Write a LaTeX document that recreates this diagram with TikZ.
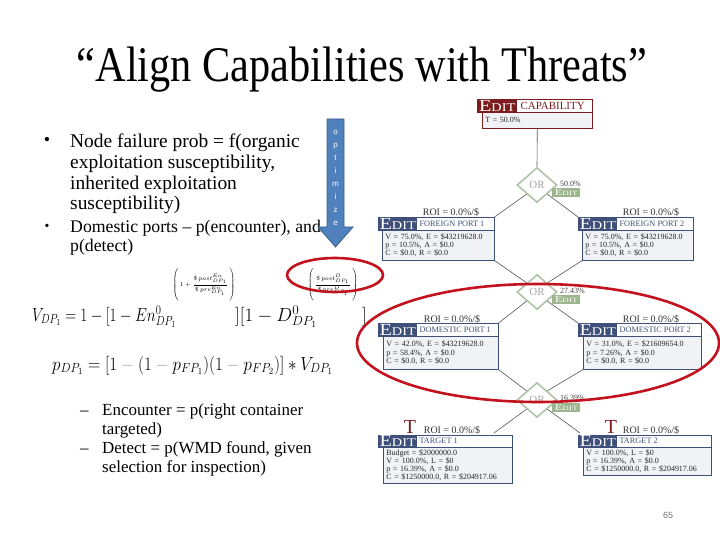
\documentclass[tikz,border=0pt]{standalone}
\usepackage{fix-cm}
\usepackage{amsmath}
\usepackage{fontspec}
\setmainfont{Liberation Serif}
\setsansfont{Liberation Sans}
\usetikzlibrary{shapes.geometric,positioning}

\definecolor{PortBlue}{HTML}{3E5079}
\definecolor{PortFill}{HTML}{F1F2F6}
\definecolor{CapRed}{HTML}{7B1D1D}
\definecolor{OrGreen}{HTML}{AFC3A7}
\definecolor{EditGreen}{HTML}{9DB58F}
\definecolor{RingRed}{HTML}{C3121E}
\definecolor{ArrowBlue}{HTML}{4F81BD}
\definecolor{ArrowEdge}{HTML}{385D8A}
\definecolor{LinkGray}{HTML}{555555}

\newcommand{\editword}{\scalebox{1.2}[1]{{\fontsize{17}{17}\selectfont E}{\fontsize{12}{12}\selectfont DIT}}}
\newcommand{\editsmall}{\scalebox{1.4}[1]{{\fontsize{9}{9}\selectfont E}{\fontsize{6.5}{6.5}\selectfont DIT}}}

\begin{document}
\begin{tikzpicture}[x=1bp, y=-1bp]
        \tikzstyle{headline} = [font=\fontsize{19.5}{21}\selectfont, align=left, anchor=base west, inner sep=0pt]
        \tikzstyle{subline} = [font=\fontsize{17}{19}\selectfont, align=left, anchor=base west, inner sep=0pt]
        \tikzstyle{formula} = [font=\fontsize{19}{23}\selectfont, anchor=base west, inner sep=0pt]
        \tikzstyle{expo} = [font=\fontsize{6}{7}\selectfont, inner sep=0pt]
        \tikzstyle{porthead} = [rectangle, draw=PortBlue, fill=white, line width=0.6bp, anchor=north west, inner sep=0pt, minimum height=13bp]
        \tikzstyle{portbody} = [rectangle, draw=PortBlue, fill=PortFill, line width=0.6bp, anchor=north west, inner sep=0pt, inner xsep=3bp, align=left, text=black!85, font=\fontsize{8}{8.3}\selectfont]
        \tikzstyle{editblue} = [rectangle, fill=PortBlue, text=white, anchor=north west, inner sep=0pt, minimum width=39bp, minimum height=13bp]
        \tikzstyle{edited} = [rectangle, fill=EditGreen, text=white, anchor=north west, inner sep=0pt, minimum width=28bp, minimum height=9bp]
        \tikzstyle{title} = [font=\fontsize{8.3}{8.3}\selectfont, text=PortBlue, inner sep=0pt]
        \tikzstyle{roi} = [font=\fontsize{10}{10}\selectfont, text=black!80, inner sep=0pt]
        \tikzstyle{ornode} = [diamond, draw=OrGreen, line width=1.6bp, fill=white, inner sep=0pt, minimum width=40bp, minimum height=35bp, text=black!35, font=\fontsize{11}{11}\selectfont]
        \tikzstyle{pct} = [font=\fontsize{8}{8}\selectfont, text=black!75, anchor=west, inner sep=0pt]
        \tikzstyle{link} = [draw=LinkGray, line width=0.6bp]
        \tikzstyle{ring} = [draw=RingRed, line width=2.6bp]
        \tikzstyle{tmark} = [font=\fontsize{20}{20}\selectfont, text=CapRed, inner sep=0pt]

\useasboundingbox (0,0) rectangle (720,540);

\node[font=\fontsize{50}{50}\selectfont, anchor=base, inner sep=0pt] (slideTitle) at (362,82) {\scalebox{0.85}[1]{“Align Capabilities with Threats”}};

\node[font=\fontsize{18}{18}\selectfont, inner sep=0pt] (dotOne) at (47,141) {•};
        \node[headline] (pointOne) at (70,210) {Node failure prob = f(organic\\exploitation susceptibility,\\inherited exploitation\\susceptibility)};
        \node[font=\fontsize{14}{14}\selectfont, inner sep=0pt] (dotTwo) at (47,227) {•};
        \node[subline, font=\fontsize{17.8}{20}\selectfont] (pointTwo) at (70,252) {Domestic ports – p(encounter), and\\p(detect)};

\node[formula] (vLeft) at (32,321) {\scalebox{0.8}[1]{$V_{DP_1} = 1-[1-En^{0}_{DP_1}$}};
        \node[expo] (expoEn) at (204,285) {$\displaystyle\left(\vrule height 15bp depth 15bp width 0pt\,1+\frac{\$\,post^{En}_{DP_1}}{\$\,pre^{En}_{DP_1}}\,\right)$};
        \node[formula] (vMid) at (235,321) {$][1-D^{0}_{DP_1}$};
        \node[expo] (expoD) at (333,285) {$\displaystyle\left(\vrule height 15bp depth 15bp width 0pt\,\frac{\$\,post^{D}_{DP_1}}{\$\,pre^{D}_{DP_1}}\,\right)$};
        \node[formula] (vRight) at (362,321) {$]$};
        \node[formula] (pFormula) at (52,370) {\scalebox{0.9}[1]{$p_{DP_1} = [1\mathbin{\color{black!35}-}(1\mathbin{\color{black!35}-}p_{FP_1})(1\mathbin{\color{black!35}-}p_{FP_2})]*V_{DP_1}$}};

\node[subline] (dashOne) at (80,415) {–};
        \node[subline] (subOne) at (102,434) {Encounter = p(right container\\targeted)};
        \node[subline] (dashTwo) at (80,453) {–};
        \node[subline] (subTwo) at (102,472) {Detect = p(WMD found, given\\selection for inspection)};

\filldraw[fill=ArrowBlue, draw=ArrowEdge, line width=0.8bp] (327,119) -- (344,119) -- (344,227) -- (353,227) -- (335.5,247) -- (318,227) -- (327,227) -- cycle;
        \node[font=\sffamily\fontsize{8}{13}\selectfont, text=white, align=center, inner sep=0pt] (optimizeWord) at (335.5,178) {o\\p\\t\\i\\m\\i\\z\\e};

\node[porthead, draw=CapRed, minimum width=115bp] (capHead) at (477,99) {};
        \node[portbody, draw=CapRed, text width=104bp, minimum width=110bp, minimum height=16bp] (capBody) at (482,112) {T = 50.0\%};
        \node[editblue, fill=CapRed, minimum width=40bp] (capEdit) at (477,99) {\editword};
        \node[title, text=CapRed, font=\fontsize{11}{11}\selectfont, right=3bp of capEdit] (capTitle) {CAPABILITY};

\node[ornode] (orOne) at (537,185) {OR};
        \node[pct] (pctOne) at (560,184) {50.0\%};
        \node[edited] (orOneEdit) at (552,188) {\editsmall};

\node[porthead, minimum width=116bp] (foreignOneHead) at (378,217) {};
        \node[portbody, text width=106bp, minimum width=112bp, minimum height=30bp] (foreignOne) at (382,230) {V = 75.0\%, E = \$43219628.0\\p = 10.5\%, A = \$0.0\\C = \$0.0, R = \$0.0};
        \node[editblue] (foreignOneEdit) at (378,217) {\editword};
        \node[title, right=2bp of foreignOneEdit] (foreignOneTitle) {FOREIGN PORT 1};
        \node[roi] (foreignOneRoi) at (451,212) {ROI = 0.0\%/\$};

\node[porthead, minimum width=115bp] (foreignTwoHead) at (578,217) {};
        \node[portbody, text width=105bp, minimum width=111bp, minimum height=30bp] (foreignTwo) at (582,230) {V = 75.0\%, E = \$43219628.0\\p = 10.5\%, A = \$0.0\\C = \$0.0, R = \$0.0};
        \node[editblue] (foreignTwoEdit) at (578,217) {\editword};
        \node[title, right=2bp of foreignTwoEdit] (foreignTwoTitle) {FOREIGN PORT 2};
        \node[roi] (foreignTwoRoi) at (651,212) {ROI = 0.0\%/\$};

\node[ornode] (orTwo) at (537,292) {OR};
        \node[pct] (pctTwo) at (560,291) {27.43\%};
        \node[edited] (orTwoEdit) at (552,295) {\editsmall};

\node[porthead, minimum width=120bp] (domesticOneHead) at (378,323) {};
        \node[portbody, text width=109bp, minimum width=115bp, minimum height=33bp] (domesticOne) at (383,336) {V = 42.0\%, E = \$43219628.0\\p = 58.4\%, A = \$0.0\\C = \$0.0, R = \$0.0};
        \node[editblue] (domesticOneEdit) at (378,323) {\editword};
        \node[title, right=2bp of domesticOneEdit] (domesticOneTitle) {DOMESTIC PORT 1};
        \node[roi] (domesticOneRoi) at (452,319) {ROI = 0.0\%/\$};

\node[porthead, minimum width=123bp] (domesticTwoHead) at (578,323) {};
        \node[portbody, text width=112bp, minimum width=118bp, minimum height=33bp] (domesticTwo) at (583,336) {V = 31.0\%, E = \$21609654.0\\p = 7.26\%, A = \$0.0\\C = \$0.0, R = \$0.0};
        \node[editblue] (domesticTwoEdit) at (578,323) {\editword};
        \node[title, right=2bp of domesticTwoEdit] (domesticTwoTitle) {DOMESTIC PORT 2};
        \node[roi] (domesticTwoRoi) at (651,319) {ROI = 0.0\%/\$};

\node[ornode] (orThree) at (537,400) {OR};
        \node[pct] (pctThree) at (560,398) {16.39\%};
        \node[edited] (orThreeEdit) at (552,403) {\editsmall};

\node[porthead, minimum width=134bp, minimum height=12bp] (targetOneHead) at (378,435) {};
        \node[portbody, text width=123bp, minimum width=129bp, minimum height=36bp] (targetOne) at (383,447) {Budget = \$2000000.0\\V = 100.0\%, L = \$0\\p = 16.39\%, A = \$0.0\\C = \$1250000.0, R = \$204917.06};
        \node[editblue, minimum height=12bp] (targetOneEdit) at (378,435) {\editword};
        \node[title, right=2bp of targetOneEdit] (targetOneTitle) {TARGET 1};
        \node[tmark] (targetOneT) at (410,427) {T};
        \node[roi] (targetOneRoi) at (452,430) {ROI = 0.0\%/\$};
        \coordinate (targetOneTop) at (494,433);

\node[porthead, minimum width=133bp, minimum height=12bp] (targetTwoHead) at (578,435) {};
        \node[portbody, text width=122bp, minimum width=128bp, minimum height=28bp] (targetTwo) at (583,447) {V = 100.0\%, L = \$0\\p = 16.39\%, A = \$0.0\\C = \$1250000.0, R = \$204917.06};
        \node[editblue, minimum height=12bp] (targetTwoEdit) at (578,435) {\editword};
        \node[title, right=2bp of targetTwoEdit] (targetTwoTitle) {TARGET 2};
        \node[tmark] (targetTwoT) at (611,427) {T};
        \node[roi] (targetTwoRoi) at (651,430) {ROI = 0.0\%/\$};
        \coordinate (targetTwoTop) at (580,433);

\draw[link] (capBody.south) -- (orOne.north);
        \draw[link] (orOne.south west) -- (foreignOneHead.north east);
        \draw[link] (orOne.south east) -- (foreignTwoHead.north west);
        \draw[link] (foreignOne.south east) -- (orTwo.north west);
        \draw[link] (foreignTwo.south west) -- (orTwo.north east);
        \draw[link] (orTwo.south west) -- (domesticOneHead.north east);
        \draw[link] (orTwo.south east) -- (domesticTwoHead.north west);
        \draw[link] (domesticOne.south east) -- (orThree.north west);
        \draw[link] (domesticTwo.south west) -- (orThree.north east);
        \draw[link] (orThree.south west) -- (targetOneTop);
        \draw[link] (orThree.south east) -- (targetTwoTop);

\draw[ring] (335,275) ellipse [x radius=48bp, y radius=17bp];
        \draw[ring] (538,343) ellipse [x radius=181bp, y radius=59bp];

\node[font=\sffamily\fontsize{9}{9}\selectfont, text=black!55, inner sep=0pt] (pageNumber) at (668,515) {65};

    \end{tikzpicture}
\end{document}
